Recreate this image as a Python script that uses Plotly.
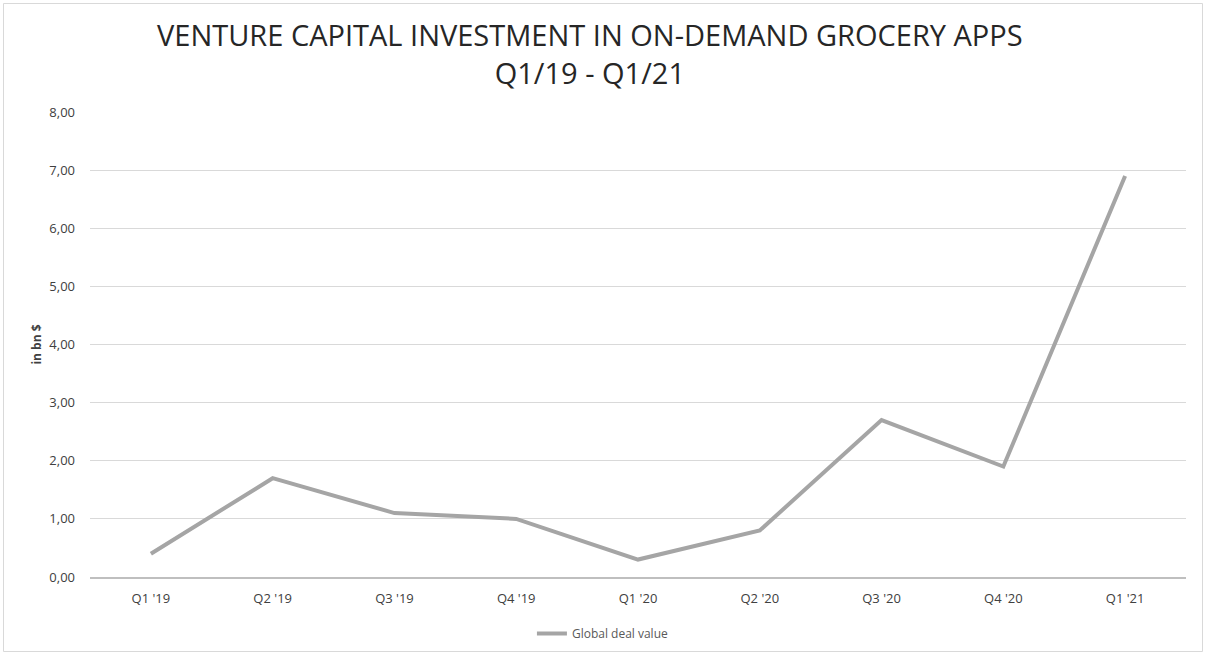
import plotly.graph_objects as go

# Quarterly global deal value (bn $)
quarters = ["Q1 '19", "Q2 '19", "Q3 '19", "Q4 '19", "Q1 '20", "Q2 '20", "Q3 '20", "Q4 '20", "Q1 '21"]
deal_value = [0.40, 1.70, 1.10, 1.00, 0.30, 0.80, 2.70, 1.90, 6.90]
y_ticks = [0, 1, 2, 3, 4, 5, 6, 7, 8]
y_tick_labels = ["0,00", "1,00", "2,00", "3,00", "4,00", "5,00", "6,00", "7,00", "8,00"]

W, H = 1205, 655
ML, MR, MT, MB = 90, 19, 112, 78
PW, PH = W - ML - MR, H - MT - MB

FONT = "Open Sans"
TEXT = "#595959"

fig = go.Figure()
fig.add_trace(go.Scatter(
    x=quarters, y=deal_value, mode="lines", name="Global deal value",
    line=dict(color="#a5a5a5", width=4),
))

def px_to_paper_x(px):
    return (px - ML) / PW

def px_to_paper_y(py):
    return (H - MB - py) / PH

fig.update_layout(
    width=W, height=H,
    margin=dict(l=ML, r=MR, t=MT, b=MB, autoexpand=False),
    paper_bgcolor="white", plot_bgcolor="white",
    font=dict(family=FONT, color=TEXT, size=12),
    xaxis=dict(
        range=[-0.5, len(quarters) - 0.5],
        showgrid=False, showline=True, linecolor="#bfbfbf", linewidth=2,
        ticks="", tickfont=dict(size=13, color="#404040", family=FONT),
        ticklabelstandoff=8, fixedrange=True,
    ),
    yaxis=dict(
        range=[0, 8], tickvals=y_ticks, ticktext=y_tick_labels,
        showgrid=True, gridcolor="#d9d9d9", gridwidth=1, zeroline=False,
        tickfont=dict(size=13, color="#404040", family=FONT),
        ticklabelstandoff=14,
        title=dict(text="<b>in bn $</b>", font=dict(size=12, color="#404040", family=FONT), standoff=5),
        fixedrange=True,
    ),
    showlegend=True,
    legend=dict(
        orientation="h", x=0.468, xanchor="center", y=px_to_paper_y(619), yanchor="top",
        font=dict(size=12, color=TEXT, family=FONT), itemwidth=30,
    ),
    annotations=[dict(
        text="VENTURE CAPITAL INVESTMENT IN ON-DEMAND GROCERY APPS<br>Q1/19 - Q1/21",
        xref="paper", yref="paper", x=px_to_paper_x(590), y=px_to_paper_y(13),
        xanchor="center", yanchor="top", showarrow=False,
        font=dict(family=FONT, size=29, color="#262626"),
    )],
    shapes=[dict(
        type="rect", xref="paper", yref="paper",
        x0=px_to_paper_x(3.5), x1=px_to_paper_x(1202.5),
        y0=px_to_paper_y(651.5), y1=px_to_paper_y(3.5),
        line=dict(color="#d9d9d9", width=1), fillcolor="rgba(0,0,0,0)", layer="below",
    )],
)

fig.write_html("out.html", config=dict(displayModeBar=False))
